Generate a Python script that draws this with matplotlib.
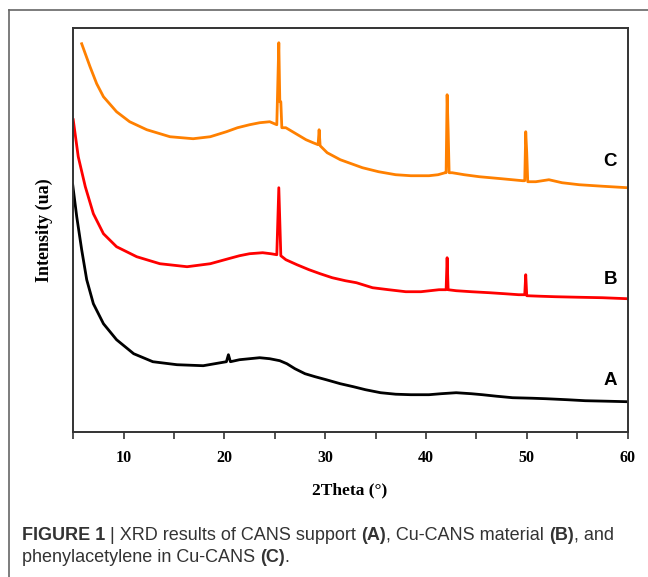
import numpy as np
import matplotlib
matplotlib.use("Agg")
import matplotlib.pyplot as plt
from matplotlib.lines import Line2D

# XRD patterns (intensity in arbitrary units)

# A - CANS support
x_a = [4.95, 5.35, 5.84, 6.34, 7.0, 8.0, 9.3, 11.0, 12.9, 15.3, 17.9, 20.2, 20.4, 20.6,
       21.5, 22.5, 23.5, 24.5, 25.5, 26.2, 27.0, 28.0, 29.0, 30.1, 31.5, 32.8, 34.0,
       35.5, 37.0, 38.5, 40.3, 41.5, 43.0, 44.5, 45.6, 47.0, 48.6, 50.5, 51.9, 54.0,
       55.8, 58.0, 60.0]
i_a = [247, 215, 182, 152, 128, 108, 92, 78, 70, 67, 66, 70, 77, 70,
       72, 73, 74, 73, 71, 68, 63, 58, 55, 52, 48, 45, 42,
       39, 37.5, 37, 37, 38, 39, 38, 37, 35.5, 34, 33.5, 33, 32,
       31, 30.5, 30]

# B - Cu-CANS material
x_b = [5.0, 5.5, 6.2, 7.0, 8.0, 9.3, 11.3, 13.6, 16.3, 18.6, 20.4, 21.5, 22.5, 23.8,
       24.6, 25.2, 25.4, 25.6, 26.1, 27.2, 28.4, 29.5, 30.7, 32.0, 33.1, 34.7, 36.3,
       38.0, 39.5, 41.3, 42.0, 42.1, 42.2, 43.0, 44.5, 46.3, 47.8, 49.2, 49.8, 49.9,
       50.0, 51.3, 52.8, 55.0, 57.5, 60.0]
i_b = [312, 275, 245, 218, 198, 185, 175, 168, 165, 168, 173, 176, 178, 179,
       178, 177, 244, 176, 172, 167, 162, 158, 154, 151, 149, 144, 142,
       140, 140, 142, 142, 174, 142, 141, 140, 139, 138, 137, 137, 157,
       136, 135.5, 135, 134.5, 134, 133]

# C - phenylacetylene in Cu-CANS
x_c = [5.84, 6.67, 7.33, 8.0, 9.3, 10.6, 12.3, 14.6, 16.9, 18.6, 20.2, 21.3, 22.5, 23.5,
       24.5, 25.2, 25.4, 25.5, 25.6, 25.7, 26.1, 27.1, 28.1, 28.8, 29.3, 29.4, 29.5,
       30.2, 31.5, 32.6, 33.7, 35.3, 37.0, 38.5, 40.3, 41.2, 41.9, 42.0, 42.1, 42.2,
       42.3, 42.6, 43.8, 45.3, 47.5, 49.6, 49.8, 49.9, 50.0, 50.1, 50.9, 52.2, 53.5,
       55.2, 57.5, 60.0]
i_c = [388, 365, 348, 335, 320, 310, 302, 295, 293, 295, 300, 304, 307, 309,
       310, 307, 389, 330, 330, 304, 304, 298, 292, 289, 287, 302, 286,
       279, 272, 268, 264, 260, 257, 256, 256, 257, 259, 259, 337, 302,
       259, 259, 257, 255, 253, 251, 251, 300, 279, 250, 250, 252, 249,
       247, 245.5, 244]

curve_labels = ["A", "B", "C"]
label_y = [51, 152, 270]
x_ticks = [10, 20, 30, 40, 50, 60]
x_minor = [5, 15, 25, 35, 45, 55]

serif = "Liberation Serif"
sans = "Liberation Sans"

fig = plt.figure(figsize=(6.48, 5.77), dpi=100)
ax = fig.add_axes([0.1122, 0.2518, 0.8562, 0.6991])

ax.plot(x_a, i_a, color="black", lw=2.0)
ax.plot(x_b, i_b, color="#ff0000", lw=2.0)
ax.plot(x_c, i_c, color="#ff8000", lw=2.0)

for lab, yy in zip(curve_labels, label_y):
    ax.text(58.3, yy, lab, fontsize=13.5, fontweight="bold", family=sans,
            ha="center", va="center")

ax.set_xlim(4.95, 60)
ax.set_ylim(0, 403.4)
ax.set_xticks(x_ticks)
ax.set_xticks(x_minor, minor=True)
ax.set_yticks([])
ax.tick_params(axis="x", which="both", direction="out", length=5, width=1.2,
               color="#333333", pad=8)
for t in ax.get_xticklabels():
    t.set_fontfamily(serif)
    t.set_fontweight("bold")
    t.set_fontsize(11.5)
for s in ax.spines.values():
    s.set_color("#333333")
    s.set_linewidth(1.4)

ax.set_xlabel("2Theta (°)", family=serif, fontweight="bold", fontsize=12.5, labelpad=12)
ax.set_ylabel("Intensity (ua)", family=serif, fontweight="bold", fontsize=13, labelpad=14)

# outer frame of the figure panel
fig.add_artist(Line2D([9/648, 9/648], [0, (577-10)/577], transform=fig.transFigure,
                      color="#666666", lw=1.2))
fig.add_artist(Line2D([9/648, 1], [(577-10)/577, (577-10)/577], transform=fig.transFigure,
                      color="#666666", lw=1.2))

# caption with bold pieces
fig.canvas.draw()
renderer = fig.canvas.get_renderer()


def caption_line(pieces, x0, y0):
    x = x0
    for txt, bold in pieces:
        t = fig.text(x, y0, txt, fontsize=13, family=sans, color="#333333",
                     fontweight="bold" if bold else "normal", va="baseline")
        bb = t.get_window_extent(renderer=renderer)
        x = x + bb.width / fig.bbox.width


line1 = [("FIGURE 1", True), (" | XRD results of CANS support ", False), ("(A)", True),
         (", Cu-CANS material ", False), ("(B)", True), (", and", False)]
line2 = [("phenylacetylene in Cu-CANS ", False), ("(C)", True), (".", False)]
caption_line(line1, 22/648, (577-540)/577)
caption_line(line2, 22/648, (577-562)/577)

fig.savefig("out.png", dpi=100)
